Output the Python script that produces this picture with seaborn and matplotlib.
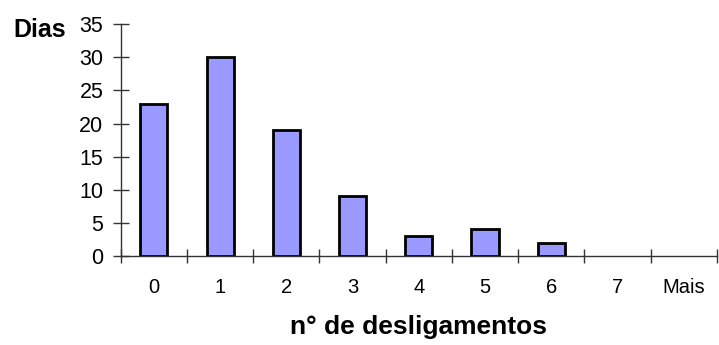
import matplotlib
matplotlib.use("Agg")
import matplotlib.pyplot as plt
import seaborn as sns
import pandas as pd
import numpy as np

categories = ["0", "1", "2", "3", "4", "5", "6", "7", "Mais"]
dias = [23, 30, 19, 9, 3, 4, 2, 0, 0]
y_ticks = [0, 5, 10, 15, 20, 25, 30, 35]

sns.set_style("white")
plt.rcParams["font.family"] = ["Liberation Sans", "DejaVu Sans"]
plt.rcParams["text.color"] = "black"
plt.rcParams["xtick.color"] = "black"
plt.rcParams["ytick.color"] = "black"

df = pd.DataFrame({"desligamentos": categories, "dias": dias})

fig = plt.figure(figsize=(7.19, 3.45), dpi=100)
ax = fig.add_axes([0.168, 0.258, 0.829, 0.672])

sns.barplot(data=df, x="desligamentos", y="dias", order=categories,
            color="#9999FF", saturation=1, width=0.41,
            edgecolor="black", linewidth=2.0, ax=ax)

# empty classes get no outline
for patch in ax.patches:
    if patch.get_height() == 0:
        patch.set_linewidth(0)

ax.set_xlim(-0.5, len(categories) - 0.5)
ax.set_ylim(0, 35)
ax.set_yticks(y_ticks)
ax.set_yticklabels([str(v) for v in y_ticks], fontsize=15.5)

# category labels without marks; marks sit between categories
ax.set_xticks(np.arange(len(categories)))
ax.set_xticklabels(categories, fontsize=14.5)
ax.tick_params(axis="x", which="major", bottom=True, length=0, pad=16)
ax.set_xticks(np.arange(-0.5, len(categories)), minor=True)
ax.tick_params(axis="x", which="minor", bottom=True, length=10, width=1,
               direction="inout", color="#333333")
ax.tick_params(axis="y", which="major", left=True, length=11, width=1,
               direction="inout", color="#333333", pad=7)

for side in ["top", "right"]:
    ax.spines[side].set_visible(False)
for side in ["left", "bottom"]:
    ax.spines[side].set_color("#333333")
    ax.spines[side].set_linewidth(1)

ax.set_xlabel("n° de desligamentos", fontsize=19, fontweight="bold",
              labelpad=13, color="black")
ax.set_ylabel("")
fig.text(0.018, 0.913, "Dias", fontsize=18, fontweight="bold",
         ha="left", va="center", color="black")

fig.savefig("out.png", dpi=100)
